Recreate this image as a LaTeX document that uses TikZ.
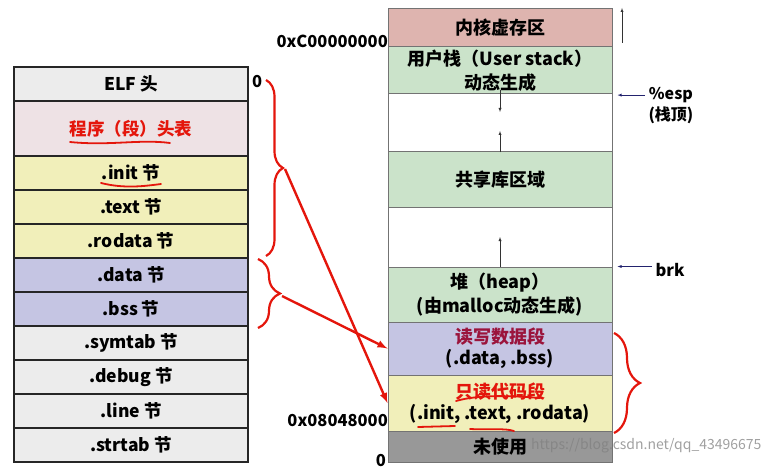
\documentclass[tikz,border=0pt]{standalone}
\usepackage{fontspec}
\setmainfont{Noto Sans CJK SC}
\usetikzlibrary{decorations.pathreplacing}
\definecolor{HeadGray}{RGB}{236,236,236}
\definecolor{PhdrPink}{RGB}{238,226,229}
\definecolor{CodeYellow}{RGB}{241,239,186}
\definecolor{DataBlue}{RGB}{197,197,227}
\definecolor{KernelRed}{RGB}{222,180,175}
\definecolor{StackGreen}{RGB}{203,227,202}
\definecolor{UnusedGray}{RGB}{152,152,152}
\definecolor{MarkRed}{RGB}{228,22,12}
\definecolor{DataMaroon}{RGB}{155,20,60}
\definecolor{PtrNavy}{RGB}{35,35,110}
\tikzstyle{section} = [rectangle, minimum width=234pt, minimum height=34pt, text centered, draw=black!85, line width=1.4pt, font=\bfseries\fontsize{17.5}{20}\selectfont]
\tikzstyle{area} = [rectangle, minimum width=224pt, align=center, draw=black!55, line width=1pt, font=\bfseries\fontsize{18}{24}\selectfont]
\tikzstyle{addr} = [anchor=east, inner sep=0pt, font=\bfseries\fontsize{16.5}{19}\selectfont]
\tikzstyle{growarrow} = [thin, -latex, black!80]
\tikzstyle{ptrarrow} = [thin, -latex, PtrNavy]
\tikzstyle{redbrace} = [decorate, MarkRed, line width=2.2pt]
\tikzstyle{redarrow} = [MarkRed, line width=2.4pt, -latex]
\tikzstyle{redline} = [MarkRed, line width=1.8pt, line cap=round]

\begin{document}
\begin{tikzpicture}[x=1pt, y=-1pt]
\useasboundingbox (0,0) rectangle (771,468);

% Sections du fichier ELF
\node (elfhdr) [section, fill=HeadGray] at (131,84) {ELF 头};
\node (phdr) [section, fill=PhdrPink, minimum height=55pt, text=MarkRed] at (131,128.5) {程序（段）头表};
\node (init) [section, fill=CodeYellow] at (131,173) {.init 节};
\node (text) [section, fill=CodeYellow] at (131,207) {.text 节};
\node (rodata) [section, fill=CodeYellow] at (131,241) {.rodata 节};
\node (data) [section, fill=DataBlue] at (131,275) {.data 节};
\node (bss) [section, fill=DataBlue] at (131,309) {.bss 节};
\node (symtab) [section, fill=HeadGray] at (131,343) {.symtab 节};
\node (debug) [section, fill=HeadGray] at (131,377) {.debug 节};
\node (line) [section, fill=HeadGray] at (131,411) {.line 节};
\node (strtab) [section, fill=HeadGray] at (131,445) {.strtab 节};

% Espace d'adressage
\node (kernel) [area, fill=KernelRed, minimum height=38pt] at (500,28) {内核虚存区};
\node (ustack) [area, fill=StackGreen, minimum height=47pt] at (500,70.5) {用户栈（User stack）\\动态生成};
\node (gapa) [area, fill=white, minimum height=58pt] at (500,123) {};
\node (shlib) [area, fill=StackGreen, minimum height=55pt] at (500,179.5) {共享库区域};
\node (gapb) [area, fill=white, minimum height=60pt] at (500,237) {};
\node (heap) [area, fill=StackGreen, minimum height=55pt] at (500,294.5) {堆（heap）\\(由malloc动态生成)};
\node (rwdata) [area, fill=DataBlue, minimum height=53pt, font=\bfseries\fontsize{18}{21}\selectfont] at (500,348.5) {\textcolor{DataMaroon}{读写数据段}\\(.data, .bss)};
\node (rocode) [area, fill=CodeYellow, minimum height=56pt, font=\bfseries\fontsize{18}{21}\selectfont] at (500,403) {\textcolor{MarkRed}{只读代码段}\\(.init, .text, .rodata)};
\node (unused) [area, fill=UnusedGray, minimum height=31pt] at (500,446.5) {未使用};

% Adresses
\node (kaddr) [addr] at (388,41) {0xC00000000};
\node (taddr) [addr] at (388,421) {0x08048000};
\node (zaddr) [addr] at (386,461) {0};
\node (zoff) [addr, anchor=west] at (252,82) {0};
\node (esp) [anchor=west, align=center, font=\bfseries\fontsize{16}{21}\selectfont] at (645,106) {\%esp\\(栈顶)};
\node (brk) [anchor=west, font=\bfseries\fontsize{16.5}{19}\selectfont] at (652,270) {brk};

% Fleches de croissance
\coordinate (vtop) at (622,8);
\coordinate (vbot) at (622,43);
\coordinate (sdown) at (500,112);
\coordinate (sup) at (500,131);
\coordinate (hup) at (500,237);
\draw [growarrow] (vbot) -- (vtop);
\draw [growarrow] ([yshift=3pt]gapa.north) -- (sdown);
\draw [growarrow] (gapa.south) -- (sup);
\draw [growarrow] (heap.north) -- (hup);
\draw [ptrarrow] (esp.west |- ustack.south) -- ([xshift=5pt]ustack.south east);
\draw [ptrarrow] (brk.west |- heap.north) -- ([xshift=5pt]heap.north east);

% Accolades et correspondances
\draw [redbrace, decoration={brace, amplitude=17pt}] (266,80) -- (266,256);
\draw [redbrace, decoration={brace, amplitude=22pt}] (258,259) -- (258,328);
\draw [redbrace, decoration={brace, amplitude=26pt}] (614,333) -- (614,433);
\coordinate (tipa) at (285,169);
\coordinate (tipb) at (282,296);
\draw [redarrow] (tipa) -- (rocode.west);
\draw [redarrow] (tipb) -- (rwdata.west);

% Soulignements
\draw [redline] (70,142) .. controls (110,146) and (140,139) .. (170,143);
\draw [redline] (101,183) .. controls (125,189) and (145,186) .. (161,184);
\draw [redline] (456,401) .. controls (480,394) and (515,396) .. (540,398);
\draw [redline] (418,427) -- (455,426);
\draw [redline] (470,429) .. controls (490,430) and (505,428) .. (514,431);

\node (wmark) [anchor=east, text=gray, opacity=0.75, font=\fontsize{14}{17}\selectfont] at (765,446) {https://blog.csdn.net/qq\_43496675};

\end{tikzpicture}
\end{document}
